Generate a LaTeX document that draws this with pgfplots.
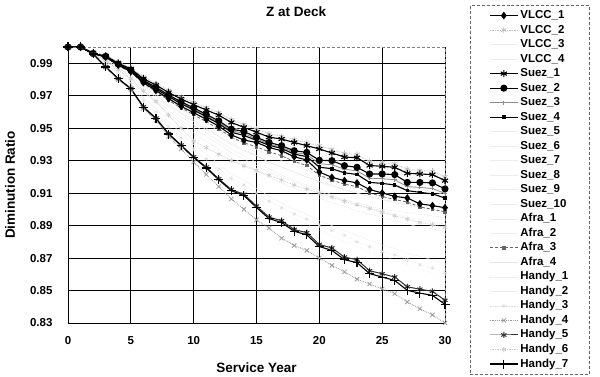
\documentclass[border=0pt]{standalone}
\usepackage{pgfplots}
\pgfplotsset{compat=1.18}
\usepackage{pgfplotstable}
\usepackage{fontspec}
\setmainfont{Liberation Sans}

\pgfplotstableread{
yr V1 V2 V3 V4
0 1.0 1.0 1.0 1.0
1 1.0 1.0 1.0 1.0
2 .996 .997 .996 .996
3 .9938 .9950 .994 .994
4 .9888 .9908 .989 .990
5 .9848 .9872 .985 .986
6 .9780 .9815 .979 .980
7 .9732 .9775 .975 .976
8 .9682 .9732 .970 .971
9 .9635 .9692 .965 .967
10 .9595 .9658 .961 .964
11 .9555 .9625 .957 .960
12 .9512 .9595 .953 .956
13 .9458 .9552 .949 .952
14 .9427 .9522 .946 .949
15 .9412 .9494 .943 .946
16 .9381 .9465 .940 .943
17 .9361 .9450 .937 .941
18 .9324 .9430 .934 .938
19 .9304 .9410 .931 .936
20 .9230 .9392 .928 .933
21 .9197 .9368 .925 .931
22 .9177 .9345 .923 .929
23 .9163 .9338 .921 .927
24 .9122 .9295 .919 .925
25 .9101 .9288 .917 .923
26 .9080 .9280 .915 .922
27 .9070 .9248 .914 .920
28 .9034 .9240 .912 .919
29 .9023 .9235 .911 .917
30 .9010 .9200 .909 .916
}\vlcc

\pgfplotstableread{
yr S1 S2 S3 S4 S5 S6 S7 S8 S9 S10
0 1.0 1.0 1.0 1.0 1.0 1.0 1.0 1.0 1.0 1.0
1 1.0 1.0 1.0 1.0 1.0 1.0 1.0 1.0 1.0 1.0
2 .996 .996 .996 .996 .996 .996 .996 .997 .996 .995
3 .9945 .9942 .9941 .994 .994 .993 .993 .995 .992 .991
4 .9900 .9895 .9893 .9892 .990 .989 .988 .991 .987 .986
5 .9865 .9858 .9855 .9853 .986 .985 .984 .987 .983 .981
6 .9805 .9795 .9791 .9788 .980 .979 .978 .982 .977 .975
7 .9765 .9752 .9747 .9742 .976 .974 .973 .978 .971 .969
8 .9720 .9705 .9700 .9695 .971 .969 .967 .974 .965 .963
9 .9680 .9662 .9656 .9650 .967 .964 .962 .970 .960 .957
10 .9645 .9625 .9618 .9612 .963 .960 .957 .966 .955 .952
11 .9612 .9585 .9577 .9570 .959 .956 .953 .963 .950 .947
12 .9580 .9545 .9536 .9528 .955 .952 .948 .959 .945 .942
13 .9535 .9494 .9485 .9475 .951 .948 .944 .956 .941 .937
14 .9505 .9480 .9467 .9455 .948 .944 .940 .953 .937 .933
15 .9475 .9443 .9434 .9425 .945 .941 .937 .950 .933 .929
16 .9445 .9412 .9403 .9395 .942 .938 .933 .947 .929 .925
17 .9433 .9392 .9383 .9375 .939 .935 .930 .944 .926 .921
18 .9412 .9361 .9350 .9340 .936 .932 .927 .942 .923 .918
19 .9392 .9351 .9338 .9325 .934 .929 .924 .939 .920 .915
20 .9372 .9302 .9281 .9260 .931 .926 .921 .937 .917 .912
21 .9347 .9300 .9275 .9250 .929 .924 .918 .935 .914 .909
22 .9322 .9269 .9247 .9225 .927 .921 .916 .933 .912 .906
23 .9318 .9259 .9237 .9215 .925 .919 .914 .931 .910 .904
24 .9270 .9218 .9192 .9166 .923 .917 .912 .929 .908 .902
25 .9265 .9218 .9189 .9160 .921 .915 .910 .927 .906 .900
26 .9259 .9214 .9182 .9150 .919 .914 .909 .925 .905 .899
27 .9222 .9166 .9140 .9115 .918 .913 .908 .924 .903 .898
28 .9218 .9166 .9135 .9105 .917 .912 .907 .922 .902 .897
29 .9214 .9163 .9129 .9095 .916 .911 .906 .921 .901 .896
30 .9177 .9126 .9098 .9070 .915 .910 .905 .920 .900 .895
}\suez

\pgfplotstableread{
yr A1 A2 A3 A4
0 1.0 1.0 1.0 1.0
1 1.0 1.0 1.0 1.0
2 .995 .995 .996 .996
3 .990 .991 .9935 .992
4 .984 .985 .9885 .987
5 .979 .980 .9845 .982
6 .972 .973 .9775 .976
7 .966 .967 .9725 .970
8 .959 .961 .9672 .964
9 .953 .955 .9625 .959
10 .947 .950 .9583 .954
11 .942 .945 .9540 .949
12 .937 .940 .9495 .945
13 .932 .935 .9445 .940
14 .928 .931 .9410 .936
15 .924 .927 .9385 .933
16 .920 .923 .9355 .929
17 .916 .920 .9330 .926
18 .913 .917 .9295 .923
19 .910 .914 .9270 .920
20 .907 .911 .9210 .917
21 .904 .908 .9180 .915
22 .902 .906 .9155 .912
23 .899 .903 .9140 .910
24 .897 .901 .9100 .908
25 .895 .899 .9080 .906
26 .893 .897 .9060 .904
27 .891 .895 .9045 .903
28 .889 .894 .9015 .901
29 .888 .892 .9000 .900
30 .886 .891 .8985 .898
}\afra

\pgfplotstableread{
yr H1 H2 H3 H4 H5 H6 H7
0 1.0 1.0 1.0 1.0 1.0 1.0 1.0
1 1.0 1.0 1.0 1.0 1.0 1.0 1.0
2 .996 .996 .996 .9955 .9957 .9962 .9957
3 .989 .990 .990 .9875 .9878 .9915 .9877
4 .982 .984 .983 .9800 .9806 .9860 .9804
5 .976 .978 .977 .9738 .9745 .9805 .9743
6 .966 .969 .967 .9622 .9632 .9730 .9629
7 .959 .962 .960 .9548 .9562 .9665 .9559
8 .950 .954 .951 .9450 .9468 .9580 .9464
9 .943 .947 .944 .9372 .9396 .9500 .9392
10 .936 .940 .937 .9292 .9324 .9420 .9319
11 .930 .934 .931 .9215 .9260 .9380 .9255
12 .923 .928 .925 .9140 .9188 .9340 .9182
13 .917 .922 .919 .9064 .9122 .9300 .9115
14 .913 .918 .915 .9000 .9093 .9268 .9085
15 .908 .913 .910 .8935 .9020 .9240 .9011
16 .902 .908 .905 .8885 .8952 .9210 .8943
17 .898 .904 .901 .8822 .8930 .9180 .8919
18 .894 .900 .897 .8777 .8876 .9150 .8865
19 .891 .897 .894 .8747 .8856 .9125 .8843
20 .887 .893 .890 .8700 .8784 .9100 .8771
21 .884 .890 .887 .8655 .8762 .9075 .8747
22 .880 .887 .884 .8615 .8706 .9050 .8690
23 .877 .884 .880 .8570 .8690 .9028 .8672
24 .874 .881 .877 .8540 .8622 .9005 .8604
25 .871 .878 .874 .8510 .8603 .8982 .8583
26 .869 .876 .872 .8481 .8583 .8960 .8562
27 .866 .873 .869 .8430 .8523 .8940 .8501
28 .863 .871 .866 .8388 .8508 .8920 .8484
29 .861 .869 .864 .8350 .8495 .8905 .8470
30 .858 .866 .861 .8300 .8440 .8890 .8415
}\handy

\begin{document}
\begin{tikzpicture}
\useasboundingbox (-68bp,-54bp) rectangle (532bp,323bp);
\begin{axis}[
  at={(0,0)}, anchor=south west,
  width=377bp, height=276bp, scale only axis,
  xmin=0, xmax=30, ymin=0.83, ymax=1.0,
  xtick={0,5,10,15,20,25,30},
  ytick={0.83,0.85,0.87,0.89,0.91,0.93,0.95,0.97,0.99},
  axis x line*=bottom, axis y line*=left,
  axis line style={black, line width=1bp, -},
  major tick length=0pt,
  grid=major,
  major grid style={black, line width=0.9bp},
  clip=false,
  /pgf/number format/assume math mode=true,
  yticklabel={\pgfmathprintnumber[fixed,fixed zerofill,precision=2]{\tick}},
  ticklabel style={font=\fontsize{11.5bp}{13bp}\selectfont\bfseries},
  yticklabel style={xshift=-12bp},
  xticklabel style={yshift=-10bp},
  title={Z at Deck},
  title style={font=\fontsize{13.5bp}{15bp}\selectfont\bfseries, at={(axis description cs:0.605,1)}, anchor=center, yshift=29bp},
  xlabel={Service Year},
  xlabel style={font=\fontsize{13.5bp}{15bp}\selectfont\bfseries, at={([yshift=-45bp]axis description cs:0.5,0)}, anchor=center},
  ylabel={Diminution Ratio},
  ylabel style={font=\fontsize{13.5bp}{15bp}\selectfont\bfseries, at={([xshift=-58bp]axis description cs:0,0.5)}, anchor=center, rotate=0},
  legend image code/.code={\draw[mark repeat=2,mark phase=2,#1] plot coordinates {(0bp,0bp) (14bp,0bp) (28bp,0bp)};},
  legend cell align=left,
  legend style={at={(axis description cs:1.0663,1.1522)}, anchor=north west,
    draw=black!60, densely dashed, line width=0.6bp,
    inner xsep=19bp, inner ysep=3bp, row sep=0pt,
    font=\fontsize{11.5bp}{13bp}\selectfont\bfseries,
    nodes={inner ysep=1.26bp, inner xsep=2bp, text height=9bp, text depth=3bp, solid}},
]
% faint and gray series first (drawn underneath)
\addplot[black!7, forget plot] table[x=yr,y=V3] {\vlcc};
\addplot[black!7, forget plot] table[x=yr,y=V4] {\vlcc};
\addplot[black!7, forget plot] table[x=yr,y=S5] {\suez};
\addplot[black!7, forget plot] table[x=yr,y=S6] {\suez};
\addplot[black!7, forget plot] table[x=yr,y=S7] {\suez};
\addplot[black!7, forget plot] table[x=yr,y=S8] {\suez};
\addplot[black!7, forget plot] table[x=yr,y=S9] {\suez};
\addplot[black!7, forget plot] table[x=yr,y=S10] {\suez};
\addplot[black!7, forget plot] table[x=yr,y=A1] {\afra};
\addplot[black!7, forget plot] table[x=yr,y=A2] {\afra};
\addplot[black!10, forget plot] table[x=yr,y=A4] {\afra};
\addplot[black!10, densely dotted, forget plot] table[x=yr,y=H1] {\handy};
\addplot[black!7, forget plot] table[x=yr,y=H2] {\handy};
\addplot[black!14, densely dotted, mark=asterisk, mark size=2.2bp, mark options={solid}, forget plot] table[x=yr,y=H3] {\handy};
\addplot[black!20, densely dotted, line width=0.7bp, mark=asterisk, mark size=2.5bp, mark options={solid}, forget plot] table[x=yr,y=H6] {\handy};
\addplot[black!40, densely dotted, line width=0.8bp, mark=x, mark size=3bp, mark options={solid}, forget plot] table[x=yr,y=H4] {\handy};
\addplot[black!25, densely dotted, line width=0.7bp, mark=asterisk, mark size=3bp, mark options={solid}, forget plot] table[x=yr,y=V2] {\vlcc};
\addplot[black!45, line width=0.8bp, mark=+, mark size=2bp, forget plot] table[x=yr,y=S3] {\suez};
\addplot[black!60, densely dashed, line width=0.8bp, mark=square*, mark size=1.2bp, mark options={solid}, forget plot] table[x=yr,y=A3] {\afra};

% legend-ordered series
\addplot[black, line width=1.1bp, mark=diamond*, mark size=3bp] table[x=yr,y=V1] {\vlcc};
\addlegendentry{VLCC\_1}
\addlegendimage{black!25, densely dotted, line width=0.7bp, mark=asterisk, mark size=3bp, mark options={solid}}
\addlegendentry{VLCC\_2}
\addlegendimage{black!7}
\addlegendentry{VLCC\_3}
\addlegendimage{black!7}
\addlegendentry{VLCC\_4}
\addplot[black, line width=1.1bp, mark=asterisk, mark size=3.5bp] table[x=yr,y=S1] {\suez};
\addlegendentry{Suez\_1}
\addplot[black, line width=1.1bp, mark=*, mark size=3bp] table[x=yr,y=S2] {\suez};
\addlegendentry{Suez\_2}
\addlegendimage{black!45, line width=0.8bp, mark=+, mark size=2bp}
\addlegendentry{Suez\_3}
\addplot[black, line width=1.1bp, mark=square*, mark size=1.2bp] table[x=yr,y=S4] {\suez};
\addlegendentry{Suez\_4}
\addlegendimage{black!7}
\addlegendentry{Suez\_5}
\addlegendimage{black!7}
\addlegendentry{Suez\_6}
\addlegendimage{black!7}
\addlegendentry{Suez\_7}
\addlegendimage{black!7}
\addlegendentry{Suez\_8}
\addlegendimage{black!7}
\addlegendentry{Suez\_9}
\addlegendimage{black!7}
\addlegendentry{Suez\_10}
\addlegendimage{black!7}
\addlegendentry{Afra\_1}
\addlegendimage{black!7}
\addlegendentry{Afra\_2}
\addlegendimage{black!60, densely dashed, line width=0.8bp, mark=square*, mark size=1.2bp, mark options={solid}}
\addlegendentry{Afra\_3}
\addlegendimage{black!10}
\addlegendentry{Afra\_4}
\addlegendimage{black!10, densely dotted}
\addlegendentry{Handy\_1}
\addlegendimage{black!7}
\addlegendentry{Handy\_2}
\addlegendimage{black!14, densely dotted, mark=asterisk, mark size=2.2bp, mark options={solid}}
\addlegendentry{Handy\_3}
\addlegendimage{black!40, densely dotted, line width=0.8bp, mark=x, mark size=3bp, mark options={solid}}
\addlegendentry{Handy\_4}
\addplot[black!80, line width=1bp, mark=asterisk, mark size=3bp] table[x=yr,y=H5] {\handy};
\addlegendentry{Handy\_5}
\addlegendimage{black!20, densely dotted, line width=0.7bp, mark=asterisk, mark size=2.5bp, mark options={solid}}
\addlegendentry{Handy\_6}
\addplot[black, line width=1.1bp, mark=+, mark size=4.5bp] table[x=yr,y=H7] {\handy};
\addlegendentry{Handy\_7}

\draw[black!50, densely dashed, line width=0.6bp] (rel axis cs:0,1) -- (rel axis cs:1,1) -- (rel axis cs:1,0);
\end{axis}
\end{tikzpicture}
\end{document}
